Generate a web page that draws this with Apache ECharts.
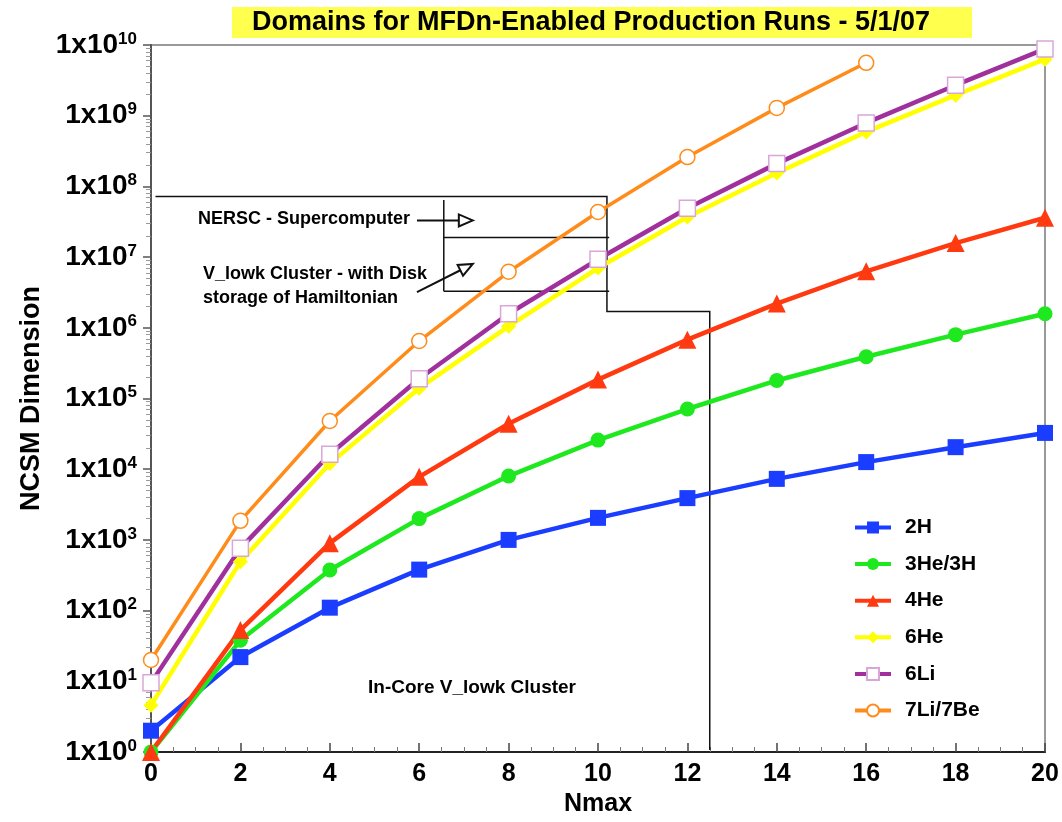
<!DOCTYPE html>
<html>
<head>
<meta charset="utf-8">
<script src="https://cdn.jsdelivr.net/npm/echarts@6/dist/echarts.min.js"></script>
<style>
html,body{margin:0;padding:0;background:#fff;}
#chart{width:1062px;height:822px;}
</style>
</head>
<body>
<div id="chart"></div>
<script>
// ---- data ----
const nmax = [0, 2, 4, 6, 8, 10, 12, 14, 16, 18, 20];
const seriesNames = ['2H', '3He/3H', '4He', '6He', '6Li', '7Li/7Be'];
const h2   = [2, 22, 110, 380, 1000, 2050, 3900, 7300, 12600, 20500, 32600];
const he3  = [1, 38, 375, 2000, 8000, 25800, 71000, 180000, 390000, 800000, 1580000];
const he4  = [1, 53, 900, 7800, 44000, 185000, 680000, 2.2e6, 6.3e6, 1.58e7, 3.6e7];
const he6  = [4.6, 490, 12000, 140000, 1.05e6, 7e6, 3.7e7, 1.55e8, 5.9e8, 1.95e9, 6.3e9];
const li6  = [9.5, 760, 16300, 190000, 1.58e6, 9.3e6, 4.9e7, 2.1e8, 7.9e8, 2.7e9, 8.8e9];
const li7  = [20, 1860, 48000, 650000, 6.2e6, 4.35e7, 2.6e8, 1.29e9, 5.6e9, null, null];
const titleText = 'Domains for MFDn-Enabled Production Runs - 5/1/07';
const xName = 'Nmax';
const yName = 'NCSM Dimension';

// annotation geometry in data coordinates
const boundaryLine = [[0.1, 7.2e7], [10.2, 7.2e7], [10.2, 1.7e6], [12.5, 1.7e6], [12.5, 1.07]];
const innerLeft = [[6.55, 6.4e7], [6.55, 3.3e6]];
const innerMid = [[6.55, 1.9e7], [10.25, 1.9e7]];
const innerBottom = [[6.55, 3.3e6], [10.25, 3.3e6]];
const arrows = [
  [[5.95, 3.3e7], [7.2, 3.3e7]],
  [[5.95, 3.2e6], [7.2, 8e6]]
];

const FONT = '"Liberation Sans", Arial, Helvetica, sans-serif';
const zip = arr => nmax.map((x, i) => [x, arr[i]]);

const chart = echarts.init(document.getElementById('chart'));

function mkSeries(name, data, color, symbol, size, opts) {
  return Object.assign({
    name: name,
    type: 'line',
    data: zip(data),
    symbol: symbol,
    symbolSize: size,
    showSymbol: true,
    connectNulls: false,
    lineStyle: { color: color, width: 4.5 },
    itemStyle: { color: color },
    emphasis: { disabled: true },
    z: 3
  }, opts || {});
}

function renderAnno(params, api) {
  const children = [];
  const ls = { stroke: '#111', lineWidth: 1.5, fill: null };
  const poly = pts => ({ type: 'polyline', shape: { points: pts.map(p => api.coord(p)) }, style: ls, silent: true });
  children.push(poly(boundaryLine));
  children.push(poly(innerLeft));
  children.push(poly(innerMid));
  children.push(poly(innerBottom));
  arrows.forEach(a => {
    const p0 = api.coord(a[0]), p1 = api.coord(a[1]);
    const dx = p1[0] - p0[0], dy = p1[1] - p0[1];
    const len = Math.sqrt(dx * dx + dy * dy);
    const ux = dx / len, uy = dy / len;
    const L = 14, W = 12;
    const bx = p1[0] - ux * L, by = p1[1] - uy * L;
    const px = -uy * W / 2, py = ux * W / 2;
    children.push({ type: 'line', shape: { x1: p0[0], y1: p0[1], x2: bx, y2: by }, style: { stroke: '#111', lineWidth: 2 }, silent: true });
    children.push({ type: 'polygon', shape: { points: [[p1[0], p1[1]], [bx + px, by + py], [bx - px, by - py]] }, style: { stroke: '#111', lineWidth: 2, fill: '#fff' }, silent: true });
  });
  return { type: 'group', children: children };
}

const option = {
  backgroundColor: '#fff',
  animation: false,
  title: {
    text: titleText,
    left: 232,
    top: 7,
    padding: [2, 42, 2, 20],
    backgroundColor: '#ffff4d',
    textStyle: { fontFamily: FONT, fontSize: 27, fontWeight: 'bold', color: '#000' }
  },
  grid: {
    left: 151, right: 17, top: 45, bottom: 70,
    show: true, borderColor: '#999', borderWidth: 2, backgroundColor: 'transparent'
  },
  legend: {
    data: seriesNames,
    orient: 'vertical',
    left: 853,
    top: 517,
    padding: 0,
    itemWidth: 36,
    itemHeight: 15,
    itemGap: 15.6,
    lineStyle: { width: 4 },
    textStyle: { fontFamily: FONT, fontSize: 21, fontWeight: 'bold', color: '#000', lineHeight: 21, padding: [0, 0, 0, 9] }
  },
  xAxis: {
    type: 'value',
    min: 0, max: 20, interval: 2,
    name: xName,
    nameLocation: 'middle',
    nameGap: 40,
    nameTextStyle: { fontFamily: FONT, fontSize: 25, fontWeight: 'bold', color: '#000' },
    axisLine: { show: true, lineStyle: { color: '#222', width: 2 } },
    axisTick: { show: true, inside: true, length: 9, lineStyle: { color: '#444', width: 1.5 } },
    minorTick: { show: true, splitNumber: 4, length: 5, lineStyle: { color: '#777', width: 1 } },
    axisLabel: { fontFamily: FONT, fontSize: 25, fontWeight: 'bold', color: '#000', margin: 10 },
    splitLine: { show: false }
  },
  yAxis: {
    type: 'log',
    logBase: 10,
    min: 1, max: 1e10,
    interval: 1,
    name: yName,
    nameLocation: 'middle',
    nameGap: 106,
    nameTextStyle: { fontFamily: FONT, fontSize: 27, fontWeight: 'bold', color: '#000' },
    axisLine: { show: true, lineStyle: { color: '#555', width: 2 } },
    axisTick: { show: true, inside: false, length: 8, lineStyle: { color: '#555', width: 1.5 } },
    minorTick: { show: true, splitNumber: 9, length: 5, lineStyle: { color: '#999', width: 1 } },
    axisLabel: {
      margin: 14,
      formatter: v => '{b|1x10}{s|' + Math.round(Math.log10(v)) + '}',
      rich: {
        b: { fontFamily: FONT, fontSize: 28, fontWeight: 'bold', color: '#000', lineHeight: 29 },
        s: { fontFamily: FONT, fontSize: 17, fontWeight: 'bold', color: '#000', verticalAlign: 'top', lineHeight: 17 }
      }
    },
    splitLine: { show: false }
  },
  graphic: [
    { type: 'text', left: 198, top: 210, style: { text: 'NERSC - Supercomputer', font: 'bold 18px ' + FONT, fill: '#000' }, z: 10 },
    { type: 'text', left: 203, top: 262, style: { text: 'V_lowk Cluster - with Disk\nstorage of Hamiltonian', font: 'bold 18px ' + FONT, fill: '#000', lineHeight: 24 }, z: 10 },
    { type: 'text', left: 368, top: 678, style: { text: 'In-Core V_lowk Cluster', font: 'bold 19px ' + FONT, fill: '#000' }, z: 10 }
  ],
  series: [
    { type: 'custom', name: 'anno', data: [[0, 1]], renderItem: renderAnno, silent: true, z: 2, clip: false },
    mkSeries('2H', h2, '#1a3dff', 'rect', 16),
    mkSeries('3He/3H', he3, '#1ee81e', 'circle', 15),
    mkSeries('4He', he4, '#ff3a10', 'triangle', 18),
    mkSeries('6He', he6, '#ffff00', 'diamond', 15),
    mkSeries('6Li', li6, '#a0309c', 'rect', 16, { itemStyle: { color: '#fff', borderColor: '#d9a6d9', borderWidth: 1.5 } }),
    mkSeries('7Li/7Be', li7, '#ff8c1a', 'circle', 15, { lineStyle: { color: '#ff8c1a', width: 3.5 }, itemStyle: { color: '#fff', borderColor: '#ff8c1a', borderWidth: 1.5 } })
  ]
};
chart.setOption(option);
</script>
</body>
</html>
